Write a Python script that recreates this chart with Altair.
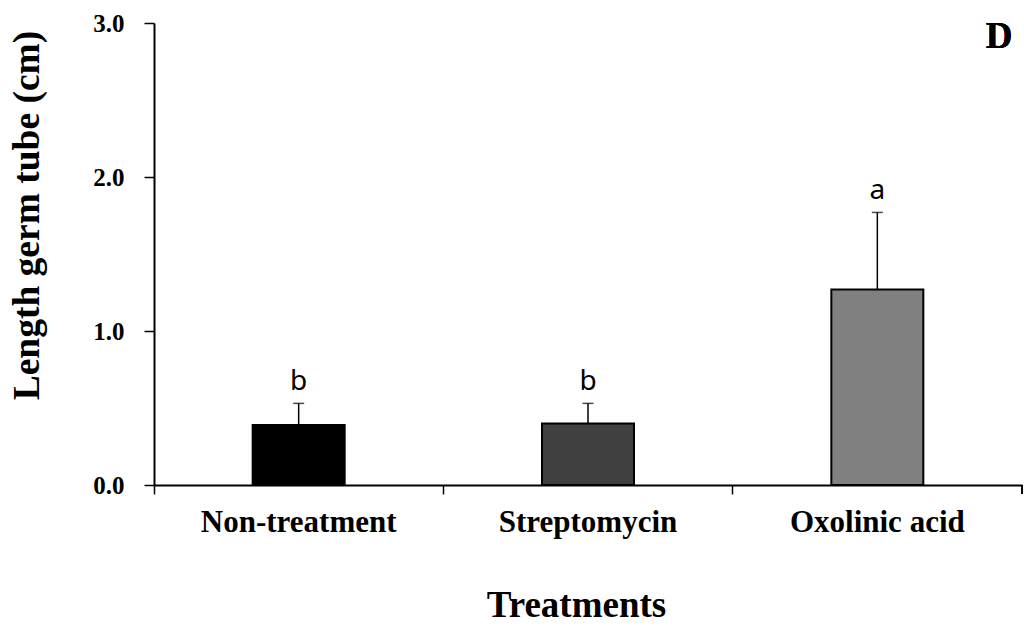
import altair as alt
import pandas as pd

# Mean germ-tube length per treatment, with the upper error (SE) and letter groups
treatments = ["Non-treatment", "Streptomycin", "Oxolinic acid"]
mean_length = [0.39, 0.40, 1.27]
error_top = [0.53, 0.53, 1.77]
groups = ["b", "b", "a"]
bar_colors = ["#000000", "#404040", "#808080"]

df = pd.DataFrame({
    "treatment": treatments,
    "length": mean_length,
    "upper": error_top,
    "group": groups,
})

W, H = 868, 462
serif = "Liberation Serif"

x_scale = alt.Scale(domain=treatments, paddingInner=0, paddingOuter=0)
y_scale = alt.Scale(domain=[0, 3], nice=False)

x_enc = alt.X("treatment:N", sort=treatments, scale=x_scale,
              axis=alt.Axis(title="Treatments"))
y_axis = alt.Axis(title="Length germ tube (cm)", values=[0, 1, 2, 3], format=".1f")

bars = alt.Chart(df).mark_bar(size=92, stroke="black", strokeWidth=2).encode(
    x=x_enc,
    y=alt.Y("length:Q", scale=y_scale, axis=y_axis),
    color=alt.Color("treatment:N", sort=treatments,
                    scale=alt.Scale(domain=treatments, range=bar_colors),
                    legend=None),
)

err_line = alt.Chart(df).mark_rule(color="black", strokeWidth=1.5).encode(
    x=x_enc,
    y=alt.Y("length:Q", scale=y_scale, axis=y_axis),
    y2="upper:Q",
)

err_cap = alt.Chart(df).mark_tick(color="black", thickness=1.5, size=11,
                                  orient="horizontal").encode(
    x=x_enc,
    y=alt.Y("upper:Q", scale=y_scale, axis=y_axis),
)

letters = alt.Chart(df).mark_text(
    font="Noto Sans", fontSize=28, baseline="alphabetic", dy=-13, color="black"
).encode(
    x=x_enc,
    y=alt.Y("upper:Q", scale=y_scale, axis=y_axis),
    text="group:N",
)

# closing tick at the right end of the category axis
end_tick = alt.Chart(df).mark_rule(color="black", strokeWidth=1.5).encode(
    x=alt.value(W), y=alt.value(H), y2=alt.value(H + 9)
)

panel = alt.Chart(df).mark_text(
    font=serif, fontSize=37, fontWeight="bold", baseline="alphabetic",
    align="center", color="black"
).encode(
    x=alt.value(845), y=alt.value(25), text=alt.value("D")
)

chart = alt.layer(bars, err_line, err_cap, letters, end_tick, panel).properties(
    width=W, height=H,
    autosize=alt.AutoSizeParams(type="none"),
    padding={"left": 154, "top": 23, "right": 2, "bottom": 143},
    background="white",
).configure_view(
    stroke=None
).configure_axis(
    domainColor="black", domainWidth=2,
    tickColor="black", tickWidth=1.5,
    labelColor="black", titleColor="black",
    labelFont=serif, labelFontWeight="bold", labelLimit=0,
    titleFont=serif, titleFontWeight="bold",
    titleBaseline="alphabetic", grid=False,
).configure_axisX(
    labelFontSize=31, labelAngle=0, labelBaseline="alphabetic",
    labelPadding=37, tickSize=9, bandPosition=0,
    titleFontSize=37, titleX=422, titleY=131,
).configure_axisY(
    labelFontSize=25, labelPadding=20, tickSize=10,
    titleFontSize=37.5, titleX=-116, titleY=192,
)

chart.save("out.html", embed_options={"renderer": "svg", "actions": False})
